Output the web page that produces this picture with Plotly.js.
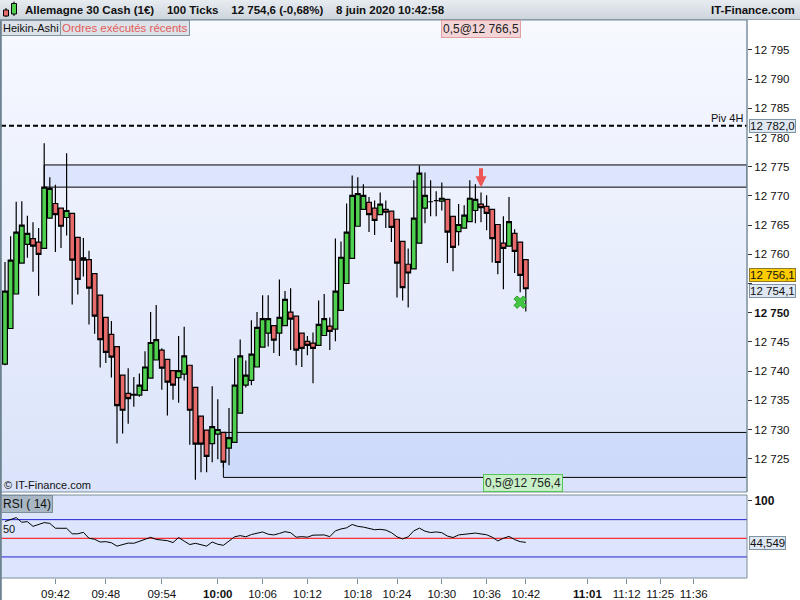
<!DOCTYPE html>
<html><head><meta charset="utf-8">
<script src="https://cdn.plot.ly/plotly-3.0.1.min.js"></script>
<style>
html,body{margin:0;padding:0;background:#fff;}
#wrap{position:relative;width:800px;height:600px;overflow:hidden;background:#fff;}
.bg{position:absolute;}
#hdr{left:0;top:0;width:800px;height:19px;background:linear-gradient(#e7ecf1,#cdd5dc);border-bottom:1px solid #98a6b1;}
#mainbg{left:1px;top:20px;width:746px;height:472px;background:linear-gradient(#f7f9ff,#dae3fa);}
#rsibg{left:1px;top:495px;width:746px;height:83px;background:#dce5fb;}
#chart{position:absolute;left:0;top:0;width:800px;height:600px;}
</style></head>
<body>
<div id="wrap">
  <div class="bg" id="hdr"></div>
  <div class="bg" id="mainbg"></div>
  <div class="bg" id="rsibg"></div>
  <div id="chart"></div>
</div>
<script>
// ---------------- DATA ----------------
const opens  = [12741.2,12747.3,12753.2,12758.5,12761.7,12762.7,12762.1,12761.0,12766.2,12768.7,
                12767.9,12766.3,12767.0,12762.9,12759.4,12759.1,12756.7,12753.0,12749.2,12746.3,
                12744.2,12739.3,12736.2,12736.0,12735.9,12736.7,12738.8,12741.9,12743.6,12742.0,
                12740.1,12738.9,12739.5,12741.0,12737.2,12732.3,12729.9,12727.6,12729.2,12729.5,
                12726.8,12727.8,12732.8,12737.6,12738.4,12740.7,12744.1,12746.5,12747.8,12746.5,
                12747.8,12750.1,12749.4,12746.5,12745.1,12744.8,12744.4,12746.1,12747.7,12747.2,
                12750.4,12755.0,12759.3,12764.8,12767.7,12768.9,12767.9,12766.8,12767.7,12767.4,
                12766.0,12762.2,12758.3,12757.5,12761.9,12767.9,12769.0,12769.2,12769.1,12769.4,
                12766.5,12763.9,12764.5,12765.6,12767.5,12768.6,12768.2,12767.7,12765.1,12761.9,
                12761.4,12763.6,12762.1,12759.1];
const highs  = [12758.7,12763.1,12769.0,12769.1,12766.6,12765.5,12764.5,12779.0,12773.2,12771.9,
                12767.9,12777.3,12767.0,12762.9,12762.8,12760.6,12756.7,12753.0,12749.2,12748.6,
                12744.2,12739.3,12740.5,12739.0,12739.6,12743.4,12750.1,12751.3,12743.9,12742.0,
                12740.1,12746.0,12747.6,12741.0,12737.2,12732.3,12729.9,12737.4,12735.2,12729.5,
                12733.7,12742.2,12745.4,12741.8,12748.7,12750.1,12753.0,12753.0,12747.8,12755.7,
                12753.7,12754.2,12749.4,12746.5,12746.0,12746.6,12752.1,12753.2,12749.2,12762.7,
                12762.2,12768.7,12773.5,12773.2,12772.0,12769.8,12769.2,12770.6,12769.2,12767.4,
                12766.0,12762.2,12761.0,12772.7,12775.2,12774.0,12772.7,12770.8,12772.3,12769.4,
                12766.5,12768.6,12768.4,12772.7,12772.0,12770.6,12770.1,12767.7,12765.1,12766.5,
                12769.8,12764.3,12762.1,12759.1];
const lows   = [12741.0,12747.3,12753.2,12758.5,12759.4,12757.0,12752.9,12761.0,12766.2,12760.4,
                12761.1,12763.2,12751.4,12753.1,12756.2,12748.0,12746.4,12740.6,12741.4,12738.9,
                12727.6,12729.3,12731.0,12733.9,12735.6,12736.7,12738.8,12741.9,12736.8,12732.4,
                12735.1,12734.6,12738.4,12727.4,12721.4,12722.7,12722.7,12724.4,12724.9,12723.5,
                12723.9,12727.8,12732.8,12737.2,12737.6,12740.7,12744.1,12744.2,12743.1,12742.6,
                12747.8,12743.6,12741.0,12740.7,12742.7,12737.9,12744.4,12746.1,12743.6,12745.1,
                12750.4,12755.0,12759.3,12764.8,12767.7,12763.8,12763.3,12766.8,12764.5,12762.1,
                12752.6,12752.1,12750.9,12757.5,12761.9,12765.3,12766.5,12766.5,12767.5,12758.5,
                12757.1,12761.5,12764.5,12765.6,12765.3,12765.5,12764.1,12758.6,12756.6,12754.0,
                12761.4,12756.8,12753.5,12750.2];
const closes = [12753.7,12759.0,12763.8,12765.0,12763.6,12761.4,12760.0,12771.5,12771.3,12766.8,
                12764.8,12767.5,12759.0,12755.7,12759.0,12754.2,12749.4,12745.4,12743.2,12742.4,
                12734.1,12733.3,12735.3,12735.9,12737.6,12740.7,12744.9,12745.4,12740.5,12738.1,
                12737.6,12740.1,12742.6,12733.3,12727.5,12727.5,12725.4,12730.5,12730.0,12724.4,
                12728.6,12737.6,12742.6,12739.3,12742.9,12747.5,12749.0,12749.0,12745.3,12749.2,
                12752.3,12748.9,12743.6,12743.9,12744.4,12743.9,12748.0,12749.0,12746.8,12753.7,
                12759.5,12763.8,12770.1,12770.4,12770.1,12766.8,12765.8,12768.6,12767.2,12764.6,
                12758.5,12754.3,12756.8,12766.2,12773.9,12770.1,12769.0,12769.2,12769.6,12763.8,
                12761.2,12765.1,12766.7,12769.6,12769.4,12768.0,12767.0,12762.7,12758.6,12761.0,
                12765.6,12760.5,12756.4,12754.1];
const rsi14  = [72.5,75,77.7,71.5,72.3,66,68,71,70,63.5,
                63.4,63.4,56,56,58,50,48.7,45,45.5,44,
                39.5,41.5,43.6,43.3,46.2,48.5,51.3,48.5,47.5,46.8,
                44.3,51,46.2,41.6,43.3,41,39.5,45,42,40.6,
                46,52,53.6,52,55,56.7,58.5,55.5,54.5,56.5,
                58.9,57.5,51.5,52.2,51.5,54.2,54.5,54.5,52.2,60,
                62.5,64,68.5,66,65,63,61.5,62,61,57.5,
                52,49.1,52,60,63.6,59.5,57.7,58.5,57.5,53,
                51,54.5,55.4,56.6,57,55.8,54.7,51.5,46.5,50,
                52.5,48.3,45.5,44.549];
const timeLabels = ['09:42','09:48','09:54','10:00','10:06','10:12','10:18','10:24','10:30','10:36','10:42','11:01','11:12','11:25','11:36'];
const timeLabelIdx = [9,18,28,38,46,54,63,70,78,86,93,104,111,117,123];
const boldTimes = ['10:00','11:01'];
const priceTicks = [12725,12730,12735,12740,12745,12750,12755,12760,12765,12770,12775,12780,12785,12790,12795];
const hiddenPriceTicks = [12755];   // covered by the value boxes in the reference
const boldPrice = 12750;
const zoneStartIdx = [7, 39];
const zoneLow  = [12771.5, 12721.8];
const zoneHigh = [12775.3, 12729.5];
const zoneFill = ['rgba(205,218,250,0.55)','rgba(196,211,250,0.6)'];
const pivotLabel = 'Piv 4H';
const pivotValue = 12782.0;
const lastPrice = 12756.1;
const haClose = 12754.1;
const rsiLast = 44.549;
const sellIdx = [85], sellPrice = [12771.5], sellText = '0,5@12 766,5';
const buyIdx = [92], buyPrice = [12751.8], buyText = '0,5@12 756,4';
const title = 'Allemagne 30 Cash (1€)   100 Ticks   12 754,6 (-0,68%)   8 juin 2020 10:42:58';

// ---------------- LAYOUT HELPERS ----------------
const W = 800, H = 600;
const X = px => px / W;
const Y = py => 1 - py / H;
const idx = opens.map((_, i) => i);
const xRange = [-0.714, 132.5];
const FONT = 'Liberation Sans, Arial, sans-serif';
const fmt = (v, d) => {
  const s = v.toFixed(d).split('.');
  const ip = s[0].replace(/\B(?=(\d{3})+(?!\d))/g, ' ');
  return d ? ip + ',' + s[1] : ip;
};

const traces = [
  {
    type: 'candlestick', x: idx, open: opens, high: highs, low: lows, close: closes,
    xaxis: 'x', yaxis: 'y', whiskerwidth: 0,
    increasing: {fillcolor: '#4fd04f', line: {color: '#000', width: 1.2}},
    decreasing: {fillcolor: '#e86b6b', line: {color: '#000', width: 1.2}},
    hoverinfo: 'skip'
  },
  {
    type: 'scatter', mode: 'markers', x: buyIdx, y: buyPrice, xaxis: 'x', yaxis: 'y',
    marker: {symbol: 'x', size: 11, color: '#44c844', line: {color: '#2f9a2f', width: 1}}
  },
  {
    type: 'scatter', mode: 'lines', x: idx, y: rsi14, xaxis: 'x2', yaxis: 'y2',
    line: {color: '#000', width: 1}
  }
];

const shapes = [];
zoneStartIdx.forEach((s, i) => {
  shapes.push({type: 'rect', xref: 'x', yref: 'y', x0: s, x1: xRange[1], y0: zoneLow[i], y1: zoneHigh[i],
    fillcolor: zoneFill[i], line: {color: '#000', width: 1}, layer: 'below'});
});
shapes.push({type: 'line', xref: 'paper', yref: 'y', x0: X(1), x1: X(747), y0: pivotValue, y1: pivotValue,
  line: {color: '#000', width: 2, dash: '5px,3px'}});
[[75, '#2323d8'], [50, '#ff0000'], [25, '#2323d8']].forEach(([v, c]) => {
  shapes.push({type: 'line', xref: 'paper', yref: 'y2', x0: X(1), x1: X(747), y0: v, y1: v,
    line: {color: c, width: 1}, layer: 'below'});
});
const border = '#7b8e9c';
shapes.push({type: 'rect', xref: 'paper', yref: 'paper', x0: X(0.5), x1: X(747), y0: Y(492), y1: Y(20), line: {color: border, width: 1}});
shapes.push({type: 'rect', xref: 'paper', yref: 'paper', x0: X(0.5), x1: X(747), y0: Y(578), y1: Y(495), line: {color: border, width: 1}});
shapes.push({type: 'line', xref: 'paper', yref: 'paper', x0: X(0.8), x1: X(0.8), y0: Y(600), y1: Y(20), line: {color: '#6d8391', width: 2}});
shapes.push({type: 'line', xref: 'paper', yref: 'paper', x0: X(747), x1: X(747), y0: Y(492), y1: Y(20), line: {color: border, width: 1}});
// header icon
shapes.push({type: 'line', xref: 'paper', yref: 'paper', x0: X(6), x1: X(6), y0: Y(17), y1: Y(8), line: {color: '#000', width: 1}});
shapes.push({type: 'rect', xref: 'paper', yref: 'paper', x0: X(3.5), x1: X(8.5), y0: Y(16), y1: Y(10), fillcolor: '#e86b6b', line: {color: '#000', width: 1}});
shapes.push({type: 'line', xref: 'paper', yref: 'paper', x0: X(14), x1: X(14), y0: Y(16), y1: Y(1.5), line: {color: '#000', width: 1}});
shapes.push({type: 'rect', xref: 'paper', yref: 'paper', x0: X(11.5), x1: X(16.5), y0: Y(14), y1: Y(3.5), fillcolor: '#4fd04f', line: {color: '#000', width: 1}});

const boxAnn = (y, yref, text, bg, bd, ya, ys) => ({
  xref: 'paper', yref: yref, x: X(749), y: y, xanchor: 'left', yanchor: ya || 'middle', yshift: ys || 0, showarrow: false,
  text: text, bgcolor: bg, bordercolor: bd, borderwidth: 1, borderpad: 0,
  font: {family: FONT, size: 11.5, color: '#111'}
});

const annotations = [
  {xref: 'paper', yref: 'paper', x: X(23), y: Y(10), xanchor: 'left', yanchor: 'middle', showarrow: false,
   text: '<b>' + title.replace(/   /g, '&nbsp;&nbsp;&nbsp; ') + '</b>', font: {family: FONT, size: 11.5, color: '#111'}},
  {xref: 'paper', yref: 'paper', x: X(797), y: Y(10), xanchor: 'right', yanchor: 'middle', showarrow: false,
   text: '<b>IT-Finance.com</b>', font: {family: FONT, size: 11.5, color: '#111'}},
  {xref: 'paper', yref: 'paper', x: X(0.5), y: Y(20), xanchor: 'left', yanchor: 'top', showarrow: false,
   text: 'Heikin-Ashi', bgcolor: '#dde2e8', bordercolor: '#8596a3', borderwidth: 1, borderpad: 1,
   font: {family: FONT, size: 11, color: '#111'}},
  {xref: 'paper', yref: 'paper', x: X(60), y: Y(20), xanchor: 'left', yanchor: 'top', showarrow: false,
   text: 'Ordres exécutés récents', bgcolor: '#dde2e8', bordercolor: '#8596a3', borderwidth: 1, borderpad: 1,
   font: {family: FONT, size: 11.5, color: '#e25c5c'}},
  {xref: 'paper', yref: 'paper', x: X(2), y: Y(485), xanchor: 'left', yanchor: 'middle', showarrow: false,
   text: '© IT-Finance.com', font: {family: FONT, size: 11, color: '#111'}},
  {xref: 'paper', yref: 'paper', x: X(0.5), y: Y(495), xanchor: 'left', yanchor: 'top', showarrow: false,
   text: 'RSI ( 14)', bgcolor: '#a8b7c3', bordercolor: '#7d8f9c', borderwidth: 1, borderpad: 1,
   font: {family: FONT, size: 12, color: '#111'}},
  {xref: 'paper', yref: 'y2', x: X(1), y: 51.5, xanchor: 'left', yanchor: 'bottom', showarrow: false,
   text: '50', font: {family: FONT, size: 11, color: '#111'}},
  {xref: 'paper', yref: 'y', x: X(745), y: pivotValue, xanchor: 'right', yanchor: 'bottom', showarrow: false,
   text: pivotLabel, font: {family: FONT, size: 11, color: '#111'}},
  {xref: 'x', yref: 'y', x: sellIdx[0], y: sellPrice[0], ax: 0, ay: -20, showarrow: true, standoff: 0, startstandoff: 0,
   arrowhead: 2, arrowsize: 0.55, arrowwidth: 4, arrowcolor: '#ee5555', text: ' ', font: {size: 1}, borderpad: 0},
  {xref: 'x', yref: 'paper', x: sellIdx[0], y: Y(20), xanchor: 'center', yanchor: 'top', showarrow: false,
   text: sellText, bgcolor: '#f4d5d7', bordercolor: '#e3a0a3', borderwidth: 1, borderpad: 1,
   font: {family: FONT, size: 12, color: '#222'}},
  {xref: 'x', yref: 'paper', x: buyIdx[0] + 0.5, y: Y(492), xanchor: 'center', yanchor: 'bottom', showarrow: false,
   text: buyText, bgcolor: '#c8f0c8', bordercolor: '#55c455', borderwidth: 1, borderpad: 1,
   font: {family: FONT, size: 12, color: '#222'}},
  boxAnn(pivotValue, 'y', fmt(pivotValue, 1), '#dfe8f2', '#7f93a3'),
  boxAnn(lastPrice - 1.0, 'y', fmt(lastPrice, 1), '#ffcc00', '#8a7a30', 'bottom', 1),
  boxAnn(lastPrice - 1.0, 'y', fmt(haClose, 1), '#dfe8f2', '#7f93a3', 'top', -1),
  boxAnn(rsiLast - 1.5, 'y2', fmt(rsiLast, 3), '#dfe8f2', '#7f93a3')
];

const layout = {
  width: W, height: H, margin: {l: 0, r: 0, t: 0, b: 0},
  paper_bgcolor: 'rgba(0,0,0,0)', plot_bgcolor: 'rgba(0,0,0,0)',
  showlegend: false, hovermode: false, boxgap: 0.15, boxgroupgap: 0,
  font: {family: FONT, size: 11, color: '#111'},
  xaxis: {domain: [X(1), X(747)], range: xRange, anchor: 'y', showticklabels: false, ticks: '',
          showgrid: false, zeroline: false, showline: false, rangeslider: {visible: false}, fixedrange: true},
  yaxis: {domain: [Y(492), Y(20)], range: [12719.3, 12800.12], side: 'right', anchor: 'x',
          tickvals: priceTicks,
          ticktext: priceTicks.map(v => hiddenPriceTicks.includes(v) ? '' : (v === boldPrice ? '<b>' + fmt(v, 0) + '</b>' : fmt(v, 0))),
          ticks: 'outside', ticklen: 4, tickcolor: '#333', tickfont: {family: FONT, size: 11.5, color: '#111'},
          showgrid: false, zeroline: false, showline: false},
  xaxis2: {domain: [X(1), X(747)], range: xRange, anchor: 'y2',
           tickvals: timeLabelIdx, ticktext: timeLabels.map(t => boldTimes.includes(t) ? '<b>' + t + '</b>' : t),
           ticks: 'outside', ticklen: 5, tickcolor: '#7b8e9c', tickfont: {family: FONT, size: 11.5, color: '#111'},
           showgrid: false, zeroline: false, showline: false},
  yaxis2: {domain: [Y(578), Y(495)], range: [-3.2, 108], side: 'right', anchor: 'x2',
           tickvals: [100], ticktext: ['<b>100</b>'], ticks: 'outside', ticklen: 4, tickcolor: '#333',
           tickfont: {family: FONT, size: 12, color: '#111'}, showgrid: false, zeroline: false, showline: false},
  shapes: shapes,
  annotations: annotations
};

Plotly.newPlot('chart', traces, layout, {staticPlot: true});
</script>
</body></html>
